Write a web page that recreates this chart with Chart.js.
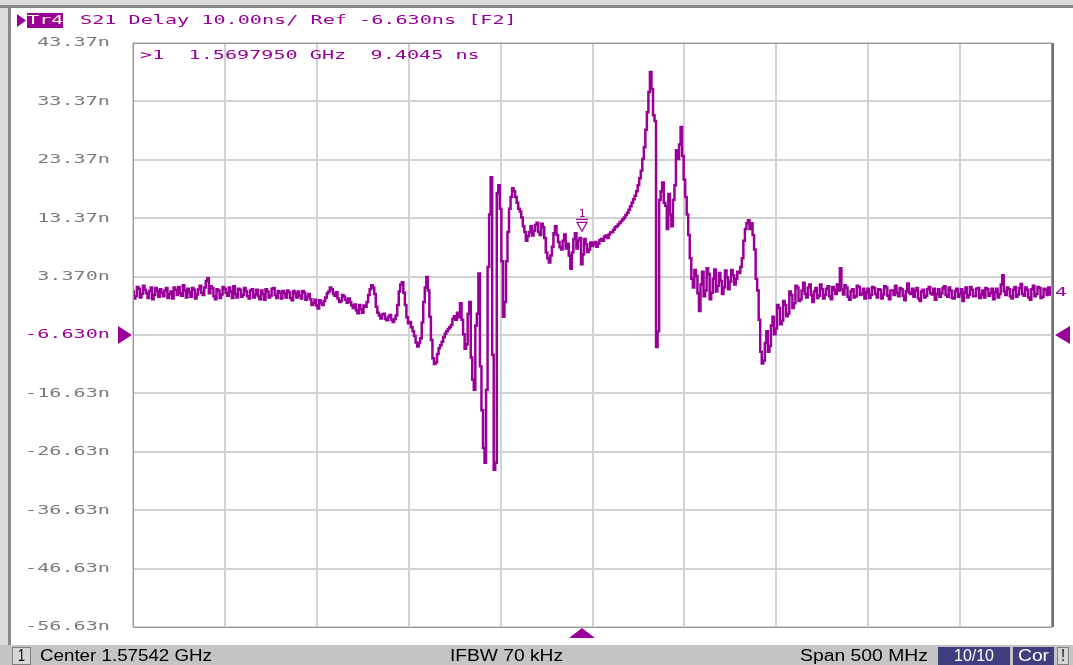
<!DOCTYPE html>
<html>
<head>
<meta charset="utf-8">
<title>S21 Delay</title>
<script src="https://cdn.jsdelivr.net/npm/chart.js@4.4.1/dist/chart.umd.min.js"></script>
<style>
    html, body { margin: 0; padding: 0; background: #ffffff; overflow: hidden; }
    #wrap { position: relative; width: 1073px; height: 665px; }
</style>
</head>
<body>
<div id="wrap"><canvas id="delayChart" width="1073" height="665"></canvas></div>
<script>
// Sweep settings (GHz)
const startGHz = 1.32542;
const stopGHz = 1.82542;

// Group delay trace, ns (601 sweep points)
const delayNs = [
    0.8, -0.4, 0.0, 1.6, 1.3, -0.2, 0.4, 1.8, 1.1, 0.5, -0.3, 0.9, 1.5, -0.5, 0.2, 1.4, 0.9, -0.1, 1.2, 0.6,
    0.0, 1.0, 1.4, -0.3, 0.4, 0.8, -0.4, 1.5, 1.1, 0.2, 1.6, 0.5, 0.1, 1.9, 1.0, -0.2, 1.3, 0.7, -0.1, 1.4,
    1.1, -0.4, 0.3, 1.2, 1.8, 0.6, 0.2, 1.5, 2.6, 3.1, 0.5, 1.7, 1.4, 0.0, -0.5, 1.2, 1.0, -0.3, 0.3, 1.6,
    1.3, 0.6, 0.1, 1.5, 0.8, -0.3, 1.7, 0.4, -0.2, 1.3, 1.1, -0.1, 0.2, 1.4, 0.9, 0.0, -0.4, 1.0, 1.2, -0.2,
    0.3, 1.1, 0.0, -0.5, 1.0, 0.4, -0.6, 1.2, 0.8, -0.2, 0.1, 1.3, 1.4, 0.2, -0.3, 0.9, 0.6, -0.4, 0.9, 0.5,
    -0.2, 1.0, 0.7, -0.3, -0.7, 0.9, 0.5, -0.2, 0.8, 0.1, -0.4, 0.9, 0.6, -0.6, -0.1, 0.4, -0.5, -1.5, -1.2, -0.6,
    -1.6, -2.1, -0.7, -1.2, -1.5, -0.8, -0.2, 0.5, 0.8, 1.5, 1.2, 0.4, 0.1, 0.7, -0.4, -1.0, -0.8, 0.2, -0.1, -0.6,
    -1.1, -0.4, -1.0, -1.6, -2.0, -1.4, -2.4, -2.9, -1.5, -2.2, -2.8, -1.6, -1.8, -1.0, 0.2, 1.2, 1.9, 1.5, 0.4, -1.8,
    -2.8, -3.3, -3.8, -3.1, -3.0, -3.9, -4.1, -3.5, -3.2, -4.0, -4.4, -3.9, -3.3, -1.5, 0.8, 2.0, 2.4, 0.6, -1.5, -3.6,
    -4.6, -4.4, -5.3, -6.0, -6.8, -7.9, -8.6, -8.0, -7.2, -4.5, -1.0, 1.5, 3.3, 1.0, -3.5, -7.5, -10.6, -11.6, -11.3, -9.9,
    -8.9, -8.4, -7.8, -7.0, -6.4, -6.0, -5.6, -5.3, -4.9, -3.9, -3.4, -4.0, -2.8, -3.6, -1.2, -4.0, -6.5, -9.0, -8.2, -3.0,
    -1.0, -10.5, -14.3, -16.0, -5.0, -3.0, 3.9, -12.0, -19.5, -26.0, -28.5, -16.0, 5.0, 14.0, 20.4, -10.0, -29.7, -28.5, 17.7, 19.0,
    15.0, 6.0, -3.5, -1.0, 6.0, 11.0, 15.0, 17.0, 18.5, 18.0, 17.0, 16.0, 15.0, 14.5, 13.5, 12.0, 11.0, 9.5, 10.3, 11.0,
    12.0, 10.4, 11.2, 12.2, 12.6, 11.0, 10.5, 12.4, 11.8, 10.0, 7.5, 6.5, 5.8, 7.0, 8.5, 10.8, 12.0, 10.5, 9.3, 8.4,
    8.0, 9.5, 10.6, 8.2, 9.0, 7.0, 4.7, 7.5, 9.8, 10.8, 8.2, 9.6, 10.0, 5.5, 7.2, 9.8, 8.9, 7.6, 8.0, 9.2,
    8.6, 9.0, 9.3, 8.5, 9.0, 9.6, 9.8, 9.5, 10.2, 10.4, 10.0, 10.6, 10.9, 11.0, 11.4, 11.8, 12.0, 12.3, 12.6, 12.9,
    13.2, 13.5, 13.9, 14.3, 14.8, 15.4, 16.0, 16.6, 17.2, 18.0, 19.0, 20.2, 21.5, 23.5, 25.5, 28.5, 31.5, 35.0, 38.4, 35.5,
    31.0, 30.0, -8.7, -6.0, 16.5, 18.0, 19.5, 16.0, 15.5, 11.5, 17.5, 14.0, 12.0, 16.5, 19.0, 25.0, 23.5, 26.0, 29.0, 24.0,
    20.0, 17.0, 14.0, 10.5, 6.5, 3.0, 1.5, 4.5, 3.5, 0.5, -2.5, 2.0, 4.2, 0.0, 1.0, 4.8, 3.8, -0.5, 0.6, 3.0,
    4.6, 0.8, 1.8, 4.0, 2.6, 0.4, 1.5, 4.4, 3.2, 1.2, 2.5, 4.5, 3.6, 2.0, 3.0, 4.2, 4.0, 5.0, 6.5, 9.5,
    11.5, 12.5, 13.0, 11.5, 12.5, 10.5, 8.0, 3.0, 1.0, -4.0, -9.5, -11.5, -11.0, -8.0, -6.0, -9.5, -8.5, -5.0, -3.5, -6.5,
    -5.5, -1.5, -2.0, -4.8, -4.2, -0.8, -1.5, -3.4, -3.0, 0.8, 0.2, -2.0, -1.2, 1.8, 1.5, -0.8, -0.5, 1.0, 2.3, 0.4,
    -0.2, 1.5, 2.0, 0.2, -1.0, 0.8, 1.4, -0.3, 0.1, 2.0, 1.2, -0.4, 0.2, 1.3, 1.7, 0.0, -0.5, 1.6, 1.1, 0.4,
    2.0, 1.0, 4.8, 1.2, 0.3, 1.9, 1.5, -0.1, -0.6, 0.9, 1.2, -0.2, 0.0, 1.8, 1.6, 0.2, 0.4, 1.3, -0.4, 0.7,
    1.3, -0.3, 0.2, 1.6, 1.4, 0.4, -0.2, 1.2, 1.1, -0.4, 0.3, 1.7, 1.5, 0.1, -0.5, 1.0, 1.0, 0.2, 1.8, 0.6,
    0.0, 1.4, 1.2, 0.1, -0.7, 0.9, 2.2, 0.6, 0.4, 1.3, -0.1, 1.0, 1.4, -0.4, -0.8, 0.8, 1.1, -0.2, 0.1, 1.2,
    1.6, 0.5, 0.3, 1.3, -0.6, 0.4, 1.2, -0.1, 0.5, 1.4, 1.7, 0.2, -0.1, 1.5, 1.0, -0.3, -0.4, 0.9, 1.3, -0.1,
    0.4, 1.2, -0.8, 0.6, 1.5, -0.2, 0.2, 1.6, 1.1, 0.0, 0.0, 1.3, 1.4, -0.3, 0.3, 1.0, -0.2, 1.4, 1.2, 0.1,
    0.5, 1.3, -0.5, 0.7, 1.3, -0.2, 0.4, 2.0, 3.6, 0.8, 0.2, 1.5, 1.2, 0.0, -0.4, 1.1, 1.6, -0.1, 0.3, 1.4,
    2.1, 0.4, 0.1, 1.5, 1.1, -0.2, -0.6, 1.2, 1.8, 0.0, 0.4, 1.6, 1.4, -0.3, -0.1, 1.3, 1.1, 0.2, 1.5, 0.3,
    0.7
];

// Sweep frequency for every point
const freqGHz = delayNs.map((_, i) => startGHz + i * (stopGHz - startGHz) / (delayNs.length - 1));

// Grid divisions
const xTickValues = [1.32542, 1.37542, 1.42542, 1.47542, 1.52542, 1.57542, 1.62542, 1.67542, 1.72542, 1.77542, 1.82542];
const yTickValues = [43.37, 33.37, 23.37, 13.37, 3.37, -6.63, -16.63, -26.63, -36.63, -46.63, -56.63];
const yTickLabels = ['43.37n', '33.37n', '23.37n', '13.37n', '3.370n', '-6.630n', '-16.63n', '-26.63n', '-36.63n', '-46.63n', '-56.63n'];

// Reference level and marker
const refLevelNs = -6.63;
const markerFreqGHz = 1.569795;
const markerDelayNs = 9.4045;

// Screen texts
const traceTitle = 'S21 Delay 10.00ns/ Ref -6.630ns [F2]';
const markerReadout = '>1  1.5697950 GHz  9.4045 ns';
const statusCenter = 'Center 1.57542 GHz';
const statusIfbw = 'IFBW 70 kHz';
const statusSpan = 'Span 500 MHz';

const traceColor = '#990099';
const gridColor = '#d2d2d2';

/**
 * Monospaced screen text, stretched like the analyzer font
 */
function monoText(ctx, text, x, y, color, align) {
    ctx.save();
    ctx.font = '13px "DejaVu Sans Mono"';
    ctx.fillStyle = color;
    ctx.textBaseline = 'middle';
    ctx.textAlign = align || 'left';
    ctx.translate(x, y);
    ctx.scale(1.55, 1);
    ctx.fillText(text, 0, 0);
    ctx.restore();
}

/**
 * Status bar text squeezed to a given width
 */
function fitText(ctx, text, x, y, width, color) {
    ctx.save();
    ctx.font = '16px "Liberation Sans", Arial, sans-serif';
    ctx.fillStyle = color;
    ctx.textBaseline = 'middle';
    ctx.textAlign = 'left';
    const w = ctx.measureText(text).width;
    ctx.translate(x, y);
    ctx.scale(width / w, 1);
    ctx.fillText(text, 0, 0);
    ctx.restore();
}

function triangle(ctx, pts, color) {
    ctx.beginPath();
    ctx.moveTo(pts[0][0], pts[0][1]);
    ctx.lineTo(pts[1][0], pts[1][1]);
    ctx.lineTo(pts[2][0], pts[2][1]);
    ctx.closePath();
    ctx.fillStyle = color;
    ctx.fill();
}

const screenDecor = {
    id: 'screenDecor',
    beforeDraw(chart) {
        const ctx = chart.ctx;
        ctx.save();
        ctx.fillStyle = '#ffffff';
        ctx.fillRect(0, 0, chart.width, chart.height);
        ctx.restore();
    },
    afterDraw(chart) {
        const ctx = chart.ctx;
        const area = chart.chartArea;
        const xs = chart.scales.x;
        const ys = chart.scales.y;
        ctx.save();

        // window frame
        ctx.fillStyle = '#dcdcdc';
        ctx.fillRect(0, 0, chart.width, 5);
        ctx.fillRect(0, 0, 8, 645);
        ctx.fillStyle = '#8a8a8a';
        ctx.fillRect(0, 5, chart.width, 3);
        ctx.fillRect(8, 5, 3, 640);

        // plot frame
        ctx.strokeStyle = '#9a9a9a';
        ctx.lineWidth = 1;
        ctx.strokeRect(area.left + 0.5, area.top + 0.5, area.right - area.left - 1, area.bottom - area.top);
        ctx.fillStyle = '#707070';
        ctx.fillRect(area.right, area.top, 2, area.bottom - area.top);

        // title line
        triangle(ctx, [[17, 14], [17, 27], [26, 20.5]], traceColor);
        ctx.fillStyle = traceColor;
        ctx.fillRect(27, 13, 36, 15);
        monoText(ctx, 'Tr4', 27, 21, '#ffffc8');
        monoText(ctx, traceTitle, 80, 21, traceColor);

        // marker readout
        monoText(ctx, markerReadout, 140, 56, traceColor);

        // y labels
        yTickValues.forEach((v, i) => {
            const color = v === refLevelNs ? traceColor : '#7a7a7a';
            monoText(ctx, yTickLabels[i], 110, ys.getPixelForValue(v), color, 'right');
        });

        // reference level arrows
        const refY = ys.getPixelForValue(refLevelNs);
        triangle(ctx, [[118, refY - 9], [118, refY + 9], [132, refY]], traceColor);
        triangle(ctx, [[1070, refY - 9], [1070, refY + 9], [1055, refY]], traceColor);

        // trace number at right edge
        const endY = ys.getPixelForValue(delayNs[delayNs.length - 1]);
        monoText(ctx, '4', 1055, endY, traceColor);

        // marker 1
        const mx = Math.round(xs.getPixelForValue(markerFreqGHz));
        const my = ys.getPixelForValue(markerDelayNs);
        ctx.strokeStyle = traceColor;
        ctx.lineWidth = 1.2;
        ctx.beginPath();
        ctx.moveTo(mx - 5, my - 19);
        ctx.lineTo(mx + 5, my - 19);
        ctx.lineTo(mx, my - 10);
        ctx.closePath();
        ctx.stroke();
        ctx.beginPath();
        ctx.moveTo(mx - 6, my - 22);
        ctx.lineTo(mx + 6, my - 22);
        ctx.stroke();
        ctx.font = '11px "DejaVu Sans Mono"';
        ctx.fillStyle = traceColor;
        ctx.textAlign = 'center';
        ctx.textBaseline = 'alphabetic';
        ctx.fillText('1', mx, my - 24);

        // stimulus marker at bottom
        triangle(ctx, [[mx - 13, 638], [mx + 13, 638], [mx, 628]], traceColor);

        // status bar
        ctx.fillStyle = '#c4c4c4';
        ctx.fillRect(0, 645, chart.width, 20);
        ctx.fillStyle = '#d6d6d6';
        ctx.fillRect(12, 647, 19, 18);
        ctx.strokeStyle = '#808080';
        ctx.lineWidth = 1;
        ctx.strokeRect(12.5, 647.5, 18, 17);
        fitText(ctx, '1', 18, 657, 7, '#000000');
        fitText(ctx, statusCenter, 40, 657, 172, '#000000');
        fitText(ctx, statusIfbw, 450, 657, 113, '#000000');
        fitText(ctx, statusSpan, 800, 657, 128, '#000000');
        ctx.fillStyle = '#3f3f7f';
        ctx.fillRect(938, 647, 72, 18);
        ctx.fillRect(1013, 647, 41, 18);
        fitText(ctx, '10/10', 954, 657, 40, '#ffffff');
        fitText(ctx, 'Cor', 1018, 657, 31, '#ffffff');
        ctx.fillStyle = '#d6d6d6';
        ctx.fillRect(1057, 647, 12, 18);
        ctx.strokeRect(1057.5, 647.5, 11, 17);
        fitText(ctx, '!', 1061, 657, 4, '#000000');

        ctx.restore();
    }
};

document.addEventListener('DOMContentLoaded', function() {
    const ctx = document.getElementById('delayChart').getContext('2d');
    const points = freqGHz.map((f, i) => ({ x: f, y: delayNs[i] }));

    new Chart(ctx, {
        type: 'line',
        data: {
            datasets: [{
                data: points,
                borderColor: traceColor,
                borderWidth: 2.5,
                borderJoinStyle: 'miter',
                borderCapStyle: 'butt',
                pointRadius: 0,
                stepped: 'middle',
                fill: false
            }]
        },
        options: {
            responsive: false,
            animation: false,
            devicePixelRatio: 1,
            layout: {
                padding: { left: 133, top: 43, right: 21, bottom: 38 }
            },
            plugins: {
                legend: { display: false },
                tooltip: { enabled: false }
            },
            scales: {
                x: {
                    type: 'linear',
                    min: startGHz,
                    max: stopGHz,
                    afterBuildTicks: scale => { scale.ticks = xTickValues.map(v => ({ value: v })); },
                    ticks: { display: false },
                    grid: { color: gridColor, lineWidth: 2, drawTicks: false },
                    border: { display: false }
                },
                y: {
                    type: 'linear',
                    min: -56.63,
                    max: 43.37,
                    afterBuildTicks: scale => { scale.ticks = yTickValues.map(v => ({ value: v })); },
                    ticks: { display: false },
                    grid: { color: gridColor, lineWidth: 2, drawTicks: false },
                    border: { display: false }
                }
            }
        },
        plugins: [screenDecor]
    });
});
</script>
</body>
</html>
